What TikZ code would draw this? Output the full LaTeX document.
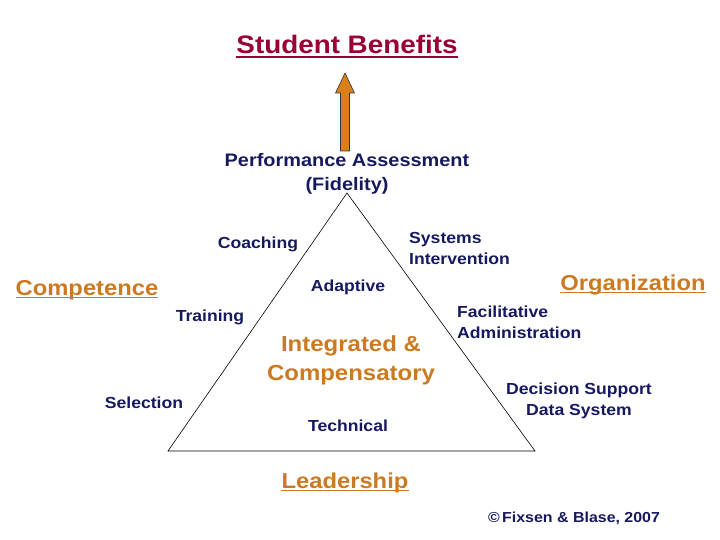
\documentclass[tikz,border=0pt]{standalone}
\usepackage{fontspec}
\setmainfont{Liberation Sans}[FakeStretch=1.1]
\definecolor{navy}{HTML}{16195E}
\definecolor{ora}{HTML}{CC7A22}
\definecolor{maroon}{HTML}{990033}
\definecolor{arrowfill}{HTML}{D9801A}
\tikzset{
  lbl/.style={font=\bfseries\fontsize{16}{21}\selectfont, text=navy, inner sep=0pt, align=center},
  lblL/.style={lbl, align=left},
  big/.style={font=\bfseries\fontsize{21.6}{26}\selectfont, text=ora, inner sep=0pt, anchor=base},
  uline/.style={line width=1.6pt},
}
\begin{document}
\begin{tikzpicture}[x=1pt,y=-1pt]
\useasboundingbox (0,0) rectangle (720,540);
% title
\node[font=\bfseries\fontsize{25.3}{30}\selectfont, text=maroon, inner sep=0pt, anchor=base] (sb) at (347,54) {Student Benefits};
\draw[uline, maroon] ([yshift=-2.8pt]sb.base west) -- ([yshift=-2.8pt]sb.base east);
% arrow
\fill[arrowfill, draw=black!80, line width=0.6pt] (340.5,151) -- (340.5,93) -- (335.5,93) -- (345,73) -- (354.5,93) -- (349.5,93) -- (349.5,151) -- cycle;
\node[lbl, font=\bfseries\fontsize{18.1}{24}\selectfont] (pa) at (347,174) {Performance Assessment\\(Fidelity)};
% triangle
\coordinate (top) at (347,193);
\coordinate (bl) at (168,451);
\coordinate (br) at (535,451);
\draw[line width=0.6pt] (top) -- (bl) -- (br) -- cycle;
% labels
\node[lbl] (coach) at (258,244.5) {Coaching};
\node[lblL, anchor=west] (sys) at (409,248) {Systems\\Intervention};
\node[big] (comp) at (87,295) {Competence};
\draw[uline, ora] ([yshift=-2.5pt]comp.base west) -- ([yshift=-2.5pt]comp.base east);
\node[big] (org) at (633,290) {Organization};
\draw[uline, ora] ([yshift=-2.5pt]org.base west) -- ([yshift=-2.5pt]org.base east);
\node[lbl] (adapt) at (348,287.5) {Adaptive};
\node[lbl] (train) at (210,317.5) {Training};
\node[lblL, anchor=west] (fac) at (457,322) {Facilitative\\Administration};
\node[big, anchor=center, align=center, font=\bfseries\fontsize{21.8}{29}\selectfont] (int) at (351,360) {Integrated \&\\Compensatory};
\node[lbl] (sel) at (144,402.5) {Selection};
\node[lbl] (dss) at (579,401) {Decision Support\\Data System};
\node[lbl] (tech) at (348,425.5) {Technical};
\node[big] (lead) at (345,488) {Leadership};
\draw[uline, ora] ([yshift=-2.5pt]lead.base west) -- ([yshift=-2.5pt]lead.base east);
\node[lbl, font=\bfseries\fontsize{14.5}{18}\selectfont] (copy) at (574,518) {©\,Fixsen \& Blase, 2007};
\end{tikzpicture}
\end{document}
